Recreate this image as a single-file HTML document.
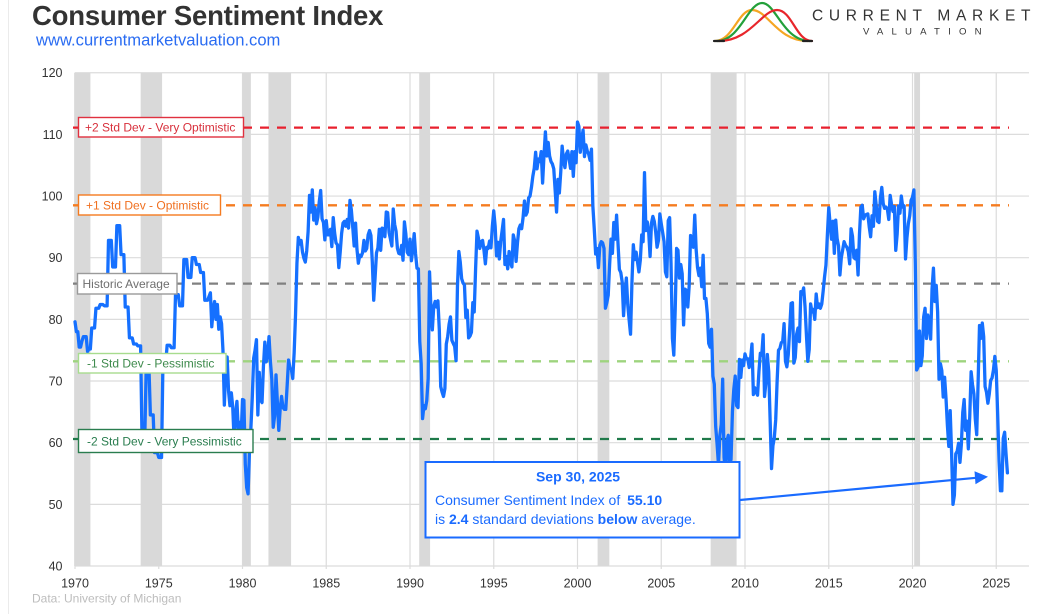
<!DOCTYPE html>
<html>
<head>
<meta charset="utf-8">
<style>
html,body{margin:0;padding:0;background:#fff;}
body{width:1052px;height:614px;overflow:hidden;}
svg{display:block;}
text{font-family:"Liberation Sans",Arial,sans-serif;}
</style>
</head>
<body>
<svg id="c" width="1052" height="614" viewBox="0 0 1052 614" xmlns="http://www.w3.org/2000/svg">
  <rect x="0" y="0" width="1052" height="614" fill="#fff"/>
  <line x1="8.5" y1="0" x2="8.5" y2="614" stroke="#ebebeb" stroke-width="1"/>

  <!-- Title -->
  <text x="32" y="25" font-size="27.5" font-weight="bold" fill="#333" letter-spacing="-0.2">Consumer Sentiment Index</text>
  <text x="36" y="45.5" font-size="16.6" fill="#2a6cf2">www.currentmarketvaluation.com</text>

  <!-- Logo -->
  <g fill="none" stroke-width="2.2" stroke-linecap="round">
    <path d="M715,41 C733,41 738,10 752,10 C768,10 777,41 808,41" stroke="#f5a623"/>
    <path d="M717,41 C740,41 748,3 762,3 C776,3 783,41 810,41" stroke="#23a03a"/>
    <path d="M719,41 C750,41 762,10 777,10 C792,10 796,41 812,41" stroke="#e8262b"/>
    <path d="M714,41 L724,41" stroke="#222"/>
    <path d="M803,41 L812,41" stroke="#222"/>
  </g>
  <text x="812" y="20.5" font-size="15.5" fill="#333" letter-spacing="5.7">CURRENT MARKET</text>
  <text x="863" y="34.5" font-size="9.6" fill="#333" letter-spacing="8.2">VALUATION</text>

  <g id="grid"></g>
  <g id="bands"></g>
  <g id="refs"></g>
  <g id="series"></g>

  <!-- Y labels -->
  <g font-size="12.5" fill="#333" text-anchor="end">
    <text x="62.5" y="77">120</text>
    <text x="62.5" y="139">110</text>
    <text x="62.5" y="200.5">100</text>
    <text x="62.5" y="262">90</text>
    <text x="62.5" y="324">80</text>
    <text x="62.5" y="385.5">70</text>
    <text x="62.5" y="447">60</text>
    <text x="62.5" y="509">50</text>
    <text x="62.5" y="570.5">40</text>
  </g>
  <!-- X labels -->
  <g font-size="12.5" fill="#333" text-anchor="middle">
    <text x="75" y="587.5">1970</text>
    <text x="158.75" y="587.5">1975</text>
    <text x="242.5" y="587.5">1980</text>
    <text x="326.25" y="587.5">1985</text>
    <text x="410" y="587.5">1990</text>
    <text x="493.75" y="587.5">1995</text>
    <text x="577.5" y="587.5">2000</text>
    <text x="661.25" y="587.5">2005</text>
    <text x="745" y="587.5">2010</text>
    <text x="828.75" y="587.5">2015</text>
    <text x="912.5" y="587.5">2020</text>
    <text x="996.25" y="587.5">2025</text>
  </g>
  <text x="32" y="602.5" font-size="12" fill="#bdbdbd">Data: University of Michigan</text>

  <!-- Reference labels -->
  <rect x="78.5" y="117.5" width="165" height="19.5" fill="#fff" stroke="#e0313f" stroke-width="1.4"/>
  <text x="85" y="131.5" font-size="12" fill="#d8303c">+2 Std Dev - Very Optimistic</text>

  <rect x="78.5" y="195" width="142" height="20" fill="#fff" stroke="#f47b20" stroke-width="1.4"/>
  <text x="86" y="209.5" font-size="12" fill="#f07020">+1 Std Dev - Optimistic</text>

  <rect x="77.5" y="273.5" width="99.5" height="20.5" fill="#fff" stroke="#9a9a9a" stroke-width="1.4"/>
  <text x="82.5" y="288" font-size="12" fill="#6e6e6e">Historic Average</text>

  <rect x="78.5" y="353.5" width="147.5" height="19.5" fill="#fff" stroke="#a7dc8e" stroke-width="1.4"/>
  <text x="87" y="367.5" font-size="12" fill="#3e8a4c">-1 Std Dev - Pessimistic</text>

  <rect x="78.5" y="429.5" width="174.5" height="23" fill="#fff" stroke="#2a7d4f" stroke-width="1.4"/>
  <text x="87" y="445.5" font-size="12" fill="#2a7d4f">-2 Std Dev - Very Pessimistic</text>

  <!-- Annotation -->
  <line x1="740" y1="500" x2="976" y2="477.8" stroke="#1a6bff" stroke-width="2.2"/>
  <polygon points="988,476.7 974.5,471.2 975.5,484.2" fill="#1a6bff"/>
  <rect x="425.5" y="462" width="314" height="75.5" fill="#fff" stroke="#1a6bff" stroke-width="2"/>
  <text x="578" y="481.5" font-size="14" font-weight="bold" fill="#1a6bff" text-anchor="middle">Sep 30, 2025</text>
  <text x="435" y="505" font-size="14" fill="#1a6bff" xml:space="preserve">Consumer Sentiment Index of <tspan font-weight="bold" dx="3">55.10</tspan></text>
  <text x="435" y="524" font-size="14" fill="#1a6bff" xml:space="preserve">is <tspan font-weight="bold">2.4</tspan> standard deviations <tspan font-weight="bold">below</tspan> average.</text>
</svg>

<script>
(function(){
  var NS="http://www.w3.org/2000/svg";
  function X(yr){return 75+(yr-1970)*16.75;}
  function Y(v){return 566-(v-40)*6.166;}
  function el(parent,tag,attrs){var e=document.createElementNS(NS,tag);for(var k in attrs)e.setAttribute(k,attrs[k]);parent.appendChild(e);return e;}
  var grid=document.getElementById('grid');
  for(var v=40;v<=120;v+=10){var y=Y(v);el(grid,'line',{x1:75,x2:1029,y1:y,y2:y,stroke:'#dcdcdc','stroke-width':1.2});}
  for(var yr=1970;yr<=2025;yr+=5){var x=X(yr);el(grid,'line',{x1:x,x2:x,y1:Y(120),y2:Y(40)+3,stroke:'#dcdcdc','stroke-width':1.2});}
  var bands=document.getElementById('bands');
  var rec=[[1969.95,1970.92],[1973.92,1975.2],[1980.0,1980.5],[1981.55,1982.9],[1990.55,1991.2],[2001.2,2001.9],[2007.95,2009.5],[2020.1,2020.45]];
  rec.forEach(function(r){var x1=X(r[0]),x2=X(r[1]);el(bands,'rect',{x:x1,y:Y(120),width:x2-x1,height:Y(40)-Y(120),fill:'#d9d9d9'});});
  var refs=document.getElementById('refs');
  var rl=[[111.1,'#e8202e'],[98.5,'#f57c20'],[85.8,'#808080'],[73.2,'#9ed47e'],[60.6,'#1f7a4a']];
  rl.forEach(function(r){var y=Y(r[0]);el(refs,'line',{x1:73,x2:1009,y1:y,y2:y,stroke:r[1],'stroke-width':2.3,'stroke-dasharray':'9 8'});});

  var first=[79.6,78.0,78.0,75.5,75.5,76.5,77.2,77.2,77.2,74.8,75.2,75.2];
  var Q=[78.6,81.8,82.4,82.2, 92.8,88.5,95.2,90.5, 82.0,77.0,76.0,75.7, 60.9,72.0,64.5,58.4, 57.6,72.9,75.8,75.4, 84.0,82.2,89.7,86.8, 90.0,88.9,87.6,83.1];
  var M=[
  83.7,84.3,78.8,81.6,82.9,80.0,82.4,78.4,80.4,79.3,75.0,66.1,
  72.1,73.9,68.4,66.0,68.1,65.8,60.4,64.5,66.7,62.1,63.3,61.0,
  67.0,66.9,56.5,52.7,51.7,58.7,62.3,67.3,73.7,75.0,76.7,64.5,
  71.4,66.9,66.5,72.4,76.3,73.1,74.1,77.2,73.1,70.3,62.5,64.3,
  71.0,66.5,62.0,65.5,67.5,65.7,65.4,65.4,69.3,73.4,72.1,71.9,
  70.4,74.6,80.8,89.1,93.3,92.2,92.8,90.9,89.9,89.3,91.1,94.2,
  100.1,97.4,101.0,96.1,98.1,95.5,96.6,99.1,100.9,96.3,95.7,92.9,
  96.0,93.7,93.7,94.6,91.8,96.5,94.0,92.4,92.1,88.4,90.9,93.9,
  95.6,95.9,95.1,96.2,94.8,99.3,97.7,94.9,91.9,95.6,91.4,89.1,
  90.4,90.2,90.8,92.8,91.1,91.5,93.7,94.4,93.6,89.3,83.1,86.8,
  90.8,91.6,94.6,91.2,94.8,94.7,93.4,97.4,97.3,94.1,93.0,91.9,
  97.9,95.4,94.3,91.5,90.7,90.6,92.0,89.6,95.8,93.9,90.9,90.5,
  93.0,89.5,91.3,93.9,90.6,88.3,88.2,76.4,72.8,63.9,66.0,65.5,
  66.8,70.4,87.7,81.8,78.3,82.1,82.9,82.0,83.0,78.3,69.1,68.2,
  67.5,68.8,76.0,77.2,79.2,80.4,76.6,76.1,75.6,73.3,85.3,91.0,
  89.3,86.6,85.9,85.6,80.3,81.5,77.0,77.3,77.9,82.7,81.2,88.2,
  94.3,93.2,91.5,92.6,92.8,91.2,89.0,91.7,91.5,92.7,91.6,95.1,
  97.6,95.1,90.3,92.5,89.8,92.7,94.4,96.2,88.9,90.2,88.2,91.0,
  89.3,88.5,93.7,92.7,89.4,92.4,94.7,95.3,94.7,96.5,99.2,96.9,
  97.4,99.7,100.0,101.4,103.2,104.5,107.1,104.4,106.0,105.6,107.2,102.1,
  106.6,110.4,106.5,108.7,106.5,105.6,105.2,104.4,100.9,97.4,102.7,100.5,
  103.9,108.1,105.7,104.6,106.8,107.3,106.0,104.5,107.2,103.2,107.2,105.4,
  112.0,111.3,107.1,109.2,110.7,106.4,108.3,107.3,106.8,105.8,107.6,98.4,
  94.7,90.6,91.5,88.4,92.0,92.6,92.4,91.5,81.8,82.7,83.9,88.8,
  93.0,90.7,95.7,93.0,96.9,92.4,88.1,87.6,86.1,80.6,84.2,86.7,
  82.4,79.9,77.6,86.0,92.1,89.7,90.9,89.3,87.7,89.6,93.7,92.6,
  103.8,94.4,95.8,94.2,90.2,95.6,96.7,95.9,94.2,91.7,92.8,97.1,
  95.5,94.1,92.6,87.7,86.9,96.0,96.5,89.1,76.9,74.2,81.6,91.5,
  91.2,86.7,88.9,87.4,79.1,84.9,84.7,82.0,85.4,93.6,92.1,91.7,
  96.9,91.3,88.4,87.1,88.3,85.3,90.4,83.4,83.4,80.9,76.1,75.5,
  78.4,70.8,69.5,62.6,59.8,56.4,61.2,63.0,70.3,57.6,55.3,60.1,
  61.2,56.3,57.3,65.1,68.7,70.8,66.0,65.7,73.5,70.6,73.4,72.5,
  74.4,73.6,73.6,72.2,73.6,76.0,67.8,68.9,68.2,67.7,71.6,74.5,
  74.2,77.5,67.5,69.8,74.3,71.5,63.7,55.8,59.5,60.8,63.7,69.9,
  75.0,75.3,76.2,76.4,79.3,73.2,72.3,74.3,78.3,82.6,82.7,72.9,
  73.8,77.6,78.6,76.4,84.5,84.1,85.1,82.1,77.5,73.2,75.1,82.5,
  81.2,81.6,80.0,84.1,81.9,82.5,81.8,82.5,84.6,86.9,88.8,93.6,
  98.1,95.4,93.0,95.9,90.7,96.1,93.1,91.9,87.2,90.0,91.3,92.6,
  92.0,91.7,91.0,89.0,94.7,93.5,90.0,89.8,91.2,87.2,93.8,98.2,
  98.5,96.3,96.9,97.0,97.1,95.0,93.4,96.8,95.1,100.7,98.5,95.9,
  95.7,99.7,101.4,98.8,98.0,98.2,97.9,96.2,100.1,98.6,97.5,98.3,
  91.2,93.8,98.4,97.2,100.0,98.2,98.4,89.8,93.2,95.5,96.8,99.3,
  99.8,101.0,89.1,71.8,72.3,78.1,72.5,74.1,80.4,81.8,76.9,80.7,
  79.0,76.8,84.9,88.3,82.9,85.5,81.2,70.3,72.8,71.7,67.4,70.6,
  67.2,62.8,59.4,65.2,58.4,50.0,51.5,58.2,58.6,59.9,56.8,59.7,
  64.9,67.0,62.0,63.5,59.0,64.2,71.5,69.4,67.9,63.8,61.3,69.7,
  79.0,76.9,79.4,77.2,69.1,68.2,66.4,67.9,70.1,70.5,71.8,74.0,
  71.7,64.7,57.0,52.2,52.2,60.7,61.7,58.2,55.1];
  var vals=first.slice();
  Q.forEach(function(q){vals.push(q,q,q);});
  vals=vals.concat(M);
  var pts=vals.map(function(v,i){return X(1970+i/12).toFixed(2)+','+Y(v).toFixed(2);}).join(' ');
  el(document.getElementById('series'),'polyline',{points:pts,fill:'none',stroke:'#1570ff','stroke-width':3.3,'stroke-linejoin':'round','stroke-linecap':'round'});
})();
</script>
</body>
</html>
